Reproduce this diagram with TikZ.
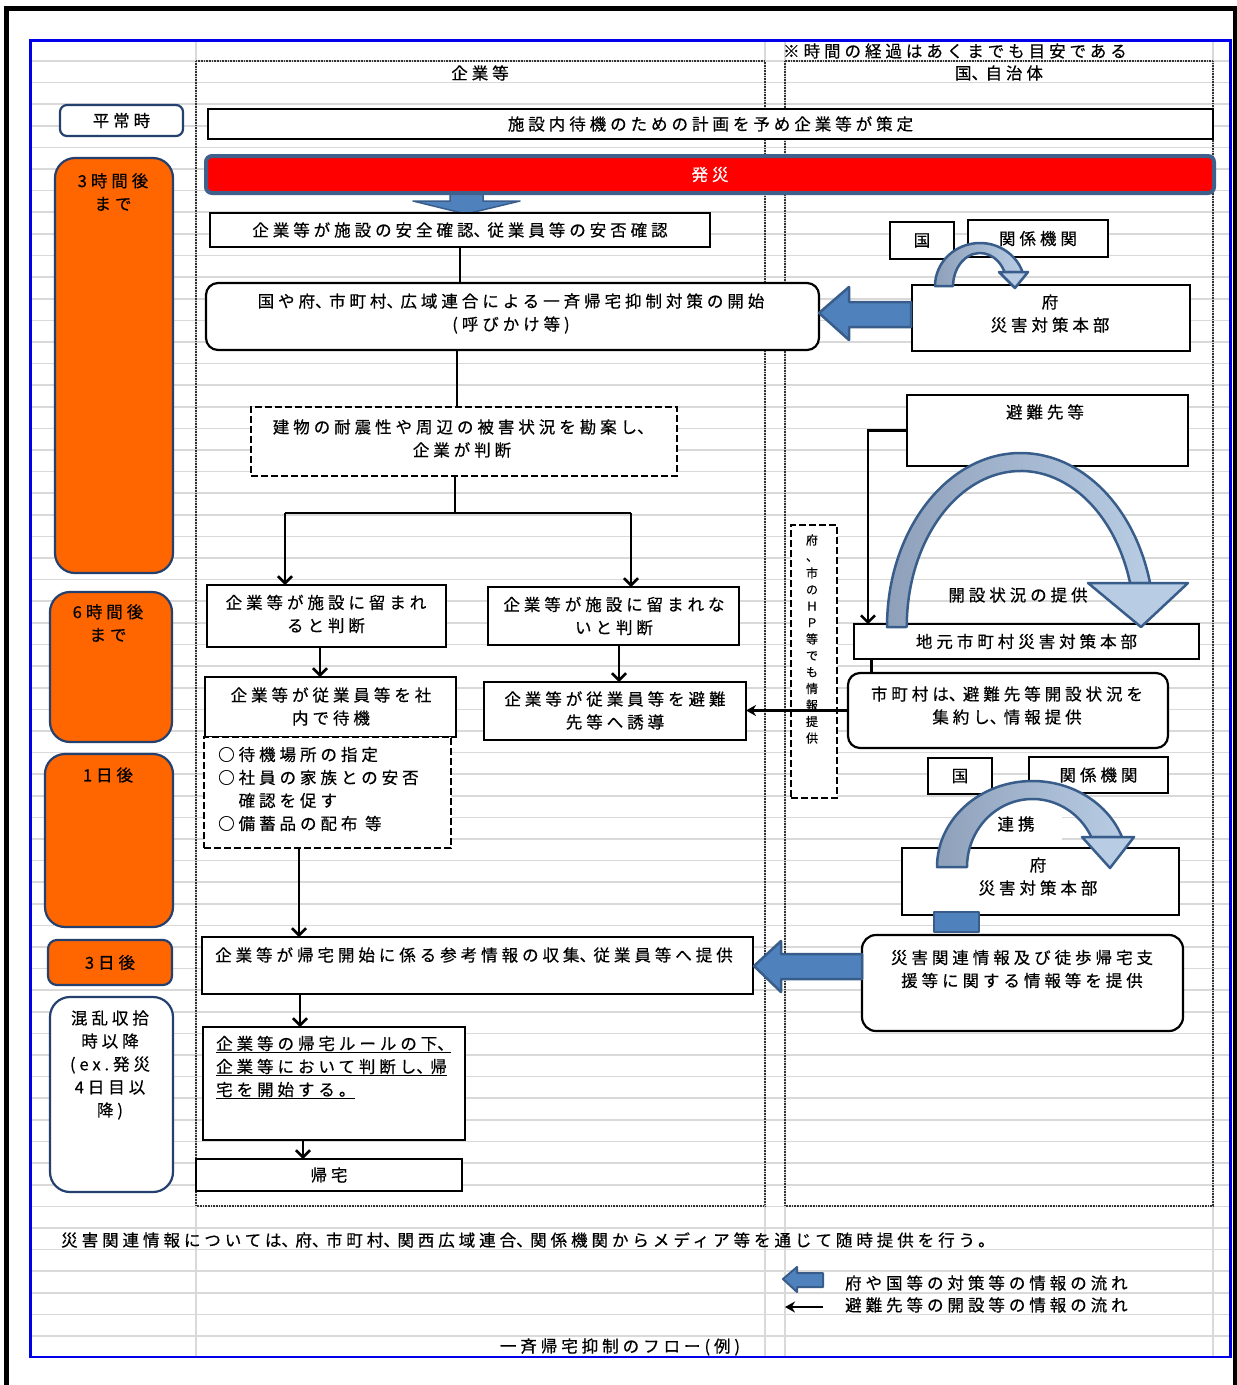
\documentclass[tikz,border=0pt]{standalone}
\usepackage{fontspec}
\setmainfont{Noto Sans CJK JP}[LetterSpace=24, FakeBold=0.5]
\newfontfamily\jpv{Noto Sans CJK JP}[FakeBold=0.5]
\usetikzlibrary{arrows.meta}
\newcommand\tou{\hbox to 14pt{、\hss}}
\definecolor{gridgray}{RGB}{217,217,217}
\definecolor{navy}{RGB}{36,64,110}
\definecolor{orangefill}{RGB}{255,102,0}
\definecolor{redborder}{RGB}{64,96,140}
\definecolor{barrowfill}{RGB}{79,129,189}
\definecolor{barrowline}{RGB}{56,93,138}
\definecolor{carrowdark}{RGB}{143,161,186}
\definecolor{carrowlight}{RGB}{184,204,228}
\definecolor{frameblue}{RGB}{0,0,235}
\begin{document}
\begin{tikzpicture}[x=1pt,y=-1pt,
  font=\fontsize{16.5}{23}\selectfont,
  pbox/.style={draw=black, line width=2.2pt, fill=white, inner sep=0pt, outer sep=0pt},
  prbox/.style={pbox, rounded corners=12pt},
  pdbox/.style={pbox, line width=2.6pt, dash pattern=on 7pt off 3pt},
  tbox/.style={draw=navy, line width=2.2pt, fill=orangefill, rounded corners=20pt, inner sep=0pt},
  wtbox/.style={tbox, fill=white},
  jtxt/.style={inner sep=0pt, align=center},
  gridl/.style={draw=gridgray, line width=1.6pt},
  colfr/.style={draw=black!80, line width=1.8pt, dash pattern=on 0.9pt off 0.7pt},
  conn/.style={draw=black, line width=2.6pt},
  parr/.style={conn, -{Straight Barb[length=7pt,width=14pt]}},
  larr/.style={conn, -{Stealth[length=10pt,width=11pt]}},
  barrow/.style={fill=barrowfill, draw=barrowline, line width=2.5pt, line join=round},
  carrow/.style={left color=carrowdark, right color=carrowlight, draw=barrowline, line width=2.5pt, line join=round},
  chead/.style={fill=carrowlight, draw=barrowline, line width=2.5pt, line join=round}
]
\useasboundingbox (0,0) rectangle (1237,1385);
\fill[white] (0,0) rectangle (1237,1385);

% sheet grid
\foreach \k in {0,...,59} \draw[gridl] (30.5,{61+21.61*\k}) -- (1230.5,{61+21.61*\k});
\foreach \xx in {196,765,785,1213} \draw[gridl] (\xx,40.5) -- (\xx,1357);

% frames
\draw[frameblue, line width=2.2pt] (30.5,40.5) rectangle (1230.5,1357);
\draw[black, line width=4.5pt] (6.5,1400) -- (6.5,8.5) -- (1235,8.5) -- (1235,1400);

% column frames
\draw[colfr] (196,61) rectangle (765,1206);
\draw[colfr] (785,61) rectangle (1213,1206);

% headers
\node[jtxt] (note) at (955,51) {※時間の経過はあくまでも目安である};
\node[jtxt] (hdr1) at (480,73) {企業等};
\node[jtxt] (hdr2) at (999,73) {国\tou 自治体};

% time column
\node[wtbox, rounded corners=7pt, minimum width=123pt, minimum height=31pt] (heijo) at (121.5,120.5) {平常時};
\node[tbox, minimum width=118pt, minimum height=415pt] (h3) at (114,365.5) {};
\node[jtxt] (h3t) at (113,192) {3時間後\\まで};
\node[tbox, minimum width=122pt, minimum height=150pt] (h6) at (111,667) {};
\node[jtxt] (h6t) at (108,623) {6時間後\\まで};
\node[tbox, minimum width=128pt, minimum height=173pt] (d1) at (109,840.5) {};
\node[jtxt] (d1t) at (108,775) {1日後};
\node[tbox, rounded corners=9pt, minimum width=124pt, minimum height=45pt] (d3) at (110,962.5) {3日後};
\node[wtbox, minimum width=123pt, minimum height=195pt] (konran) at (111.5,1094.5) {};
\node[jtxt] (konrant) at (110,1065) {混乱収拾\\時以降\\(ex.発災\\4日目以\\降)};

% block arrow from hassai
\filldraw[barrow, line width=1.5pt] (450,193) -- (483,193) -- (483,201) -- (520,201) -- (466,214) -- (413,201) -- (450,201) -- cycle;

% company column
\node[pbox, minimum width=1005pt, minimum height=30pt] (plan) at (710.5,124) {施設内待機のための計画を予め企業等が策定};
\node[pbox, fill=red, draw=redborder, line width=4pt, rounded corners=6pt, minimum width=1008pt, minimum height=37pt, text=white] (hassai) at (710,174.5) {発災};
\node[pbox, minimum width=500pt, minimum height=34pt] (kakunin) at (460,230) {企業等が施設の安全確認\tou 従業員等の安否確認};
\node[prbox, minimum width=613pt, minimum height=67pt] (kaishi) at (512.5,316.5) {};
\node[jtxt] (kaishit) at (511,313.5) {国や府\tou 市町村\tou 広域連合による一斉帰宅抑制対策の開始\\(呼びかけ等)};
\node[pdbox, minimum width=426pt, minimum height=69pt] (handan) at (464,441.5) {};
\node[jtxt] (handant) at (462,438.5) {建物の耐震性や周辺の被害状況を勘案し\tou\\企業が判断};
\node[pbox, minimum width=239pt, minimum height=62pt] (stay) at (326.5,616) {};
\node[jtxt] (stayt) at (326,614) {企業等が施設に留まれ\\ると判断};
\node[pbox, minimum width=251pt, minimum height=58pt] (nostay) at (613.5,616) {};
\node[jtxt] (nostayt) at (614,616) {企業等が施設に留まれな\\いと判断};
\node[pbox, minimum width=251pt, minimum height=60pt] (wait) at (330.5,707) {};
\node[jtxt] (waitt) at (331,706.5) {企業等が従業員等を社\\内で待機};
\node[pbox, minimum width=262pt, minimum height=58pt] (evac) at (615,711) {};
\node[jtxt] (evact) at (615,710.5) {企業等が従業員等を避難\\先等へ誘導};
\node[pdbox, minimum width=247pt, minimum height=111pt] (list) at (327.5,792.5) {};
\node[jtxt, align=left, anchor=west] (listt) at (218,789) {○待機場所の指定\\○社員の家族との安否\\　確認を促す\\○備蓄品の配布 等};
\node[pbox, minimum width=551pt, minimum height=57pt] (collect) at (477.5,965.5) {};
\node[jtxt, anchor=west] (collectt) at (215,955) {企業等が帰宅開始に係る参考情報の収集\tou 従業員等へ提供};
\node[pbox, minimum width=262pt, minimum height=113pt] (rule) at (334,1083.5) {};
\node[jtxt, align=left, anchor=west] (rulet) at (216,1067.5) {\underline{企業等の帰宅ルールの下\tou}\\\underline{企業等において判断し\tou 帰}\\\underline{宅を開始する。}};
\node[pbox, minimum width=266pt, minimum height=32pt] (home) at (329,1175) {帰宅};

% government column
\node[pbox, minimum width=64pt, minimum height=37pt] (kuni1) at (922,240.5) {国};
\node[pbox, minimum width=140pt, minimum height=37pt] (kankei1) at (1038,238.5) {関係機関};
\node[pbox, minimum width=278pt, minimum height=66pt] (fu1) at (1051,318) {};
\node[jtxt] (fu1t) at (1050,313.5) {府\\災害対策本部};
\node[pbox, minimum width=281pt, minimum height=71pt] (hinan) at (1047.5,430.5) {};
\node[jtxt] (hinant) at (1045,412) {避難先等};
\node[jtxt] (kaisetsu) at (1018,595) {開設状況の提供};
\node[pbox, minimum width=345pt, minimum height=35pt] (jimoto) at (1026.5,641.5) {地元市町村災害対策本部};
\node[prbox, minimum width=320pt, minimum height=75pt] (shicho) at (1008,710.5) {};
\node[jtxt] (shichot) at (1007,705.5) {市町村は\tou 避難先等開設状況を\\集約し\tou 情報提供};
\node[pdbox, minimum width=46pt, minimum height=273pt] (hp) at (814,661.5) {};
\node[jtxt, font=\jpv\fontsize{12}{16.5}\selectfont] (hpt) at (812,639) {府\\、\\市\\の\\Ｈ\\Ｐ\\等\\で\\も\\情\\報\\提\\供};
\node[pbox, minimum width=64pt, minimum height=36pt] (kuni2) at (960,776) {国};
\node[pbox, minimum width=139pt, minimum height=36pt] (kankei2) at (1098.5,775) {関係機関};
\node[pbox, minimum width=277pt, minimum height=67pt] (fu2) at (1040.5,881.5) {};
\node[jtxt] (fu2t) at (1038,876.5) {府\\災害対策本部};
\node[jtxt, fill=white, minimum width=102pt, minimum height=38pt] (renkei) at (1011,824) {\hspace*{10pt}連携};
\node[prbox, rounded corners=14pt, minimum width=321pt, minimum height=96pt] (teikyo) at (1022.5,983) {};
\node[jtxt] (teikyot) at (1022,969) {災害関連情報及び徒歩帰宅支\\援等に関する情報等を提供};
\node[barrow, inner sep=0pt, minimum width=45pt, minimum height=20pt] (stub) at (956.5,922) {};

% curved arrows
\shadedraw[carrow] (935,286) arc[start angle=180, end angle=341, x radius=45, y radius=43] -- (1004.5,272) arc[start angle=334.9, end angle=180, x radius=27, y radius=33] -- cycle;
\filldraw[chead] (999,272) -- (1028,272) -- (1015,288) -- cycle;
\shadedraw[carrow] (887,627) arc[start angle=180, end angle=345.35, x radius=133.7, y radius=174] -- (1130.1,583) arc[start angle=343.62, end angle=180, x radius=114, y radius=156] -- cycle;
\filldraw[chead] (1088,583) -- (1188,583) -- (1141,627) -- cycle;
\shadedraw[carrow] (937,867) arc[start angle=180, end angle=339.58, x radius=95.5, y radius=86] -- (1091.3,837) arc[start angle=333.82, end angle=180, x radius=65.5, y radius=68] -- cycle;
\filldraw[chead] (1082,837) -- (1134,837) -- (1110,868) -- cycle;

% block arrows
\filldraw[barrow] (819,313) -- (849,287) -- (849,302) -- (911,302) -- (911,327) -- (849,327) -- (849,340) -- cycle;
\filldraw[barrow] (754,966) -- (781,941) -- (781,954) -- (862,954) -- (862,979) -- (781,979) -- (781,992) -- cycle;

% connectors
\coordinate (x457) at (457,0);
\coordinate (x455) at (455,0);
\coordinate (splitL) at (285,513);
\coordinate (splitR) at (631,513);
\coordinate (x320) at (320,0);
\coordinate (x619) at (619,0);
\coordinate (x299) at (299,0);
\coordinate (x300) at (300,0);
\coordinate (x303) at (303,0);
\coordinate (x868) at (868,0);
\coordinate (x871) at (871,0);
\draw[conn] (kakunin.south) -- (kakunin.south |- kaishi.north);
\draw[conn] (x457 |- kaishi.south) -- (x457 |- handan.north);
\draw[conn] (x455 |- handan.south) -- (x455 |- splitL);
\draw[conn] (splitL) -- (splitR);
\draw[parr] (splitL) -- (splitL |- stay.north);
\draw[parr] (splitR) -- (splitR |- nostay.north);
\draw[parr] (x320 |- stay.south) -- (x320 |- wait.north);
\draw[parr] (x619 |- nostay.south) -- (x619 |- evac.north);
\draw[parr] (x299 |- list.south) -- (x299 |- collect.north);
\draw[parr] (x300 |- collect.south) -- (x300 |- rule.north);
\draw[parr] (x303 |- rule.south) -- (x303 |- home.north);
\draw[parr, line width=2.4pt] (hinan.west) -| (x868 |- jimoto.north);
\draw[conn, line width=3pt] (x871 |- jimoto.south) -- (x871 |- shicho.north);
\draw[larr] (shicho.west) -- (shicho.west -| evac.east);

% bottom notes and legend
\node[jtxt, anchor=west] (media) at (61,1240) {災害関連情報については\tou 府\tou 市町村\tou 関西広域連合\tou 関係機関からメディア等を通じて随時提供を行う。};
\filldraw[barrow, line width=2pt] (783,1279) -- (797,1267) -- (797,1273) -- (823,1273) -- (823,1287) -- (797,1287) -- (797,1292) -- cycle;
\coordinate (lgs) at (823,1307);
\coordinate (lge) at (785,1307);
\draw[larr, line width=2.4pt] (lgs) -- (lge);
\node[jtxt, anchor=west] (lg1t) at (845,1283) {府や国等の対策等の情報の流れ};
\node[jtxt, anchor=west] (lg2t) at (845,1305) {避難先等の開設等の情報の流れ};
\node[jtxt] (title) at (620,1347) {一斉帰宅抑制のフロー(例)};
\end{tikzpicture}
\end{document}
